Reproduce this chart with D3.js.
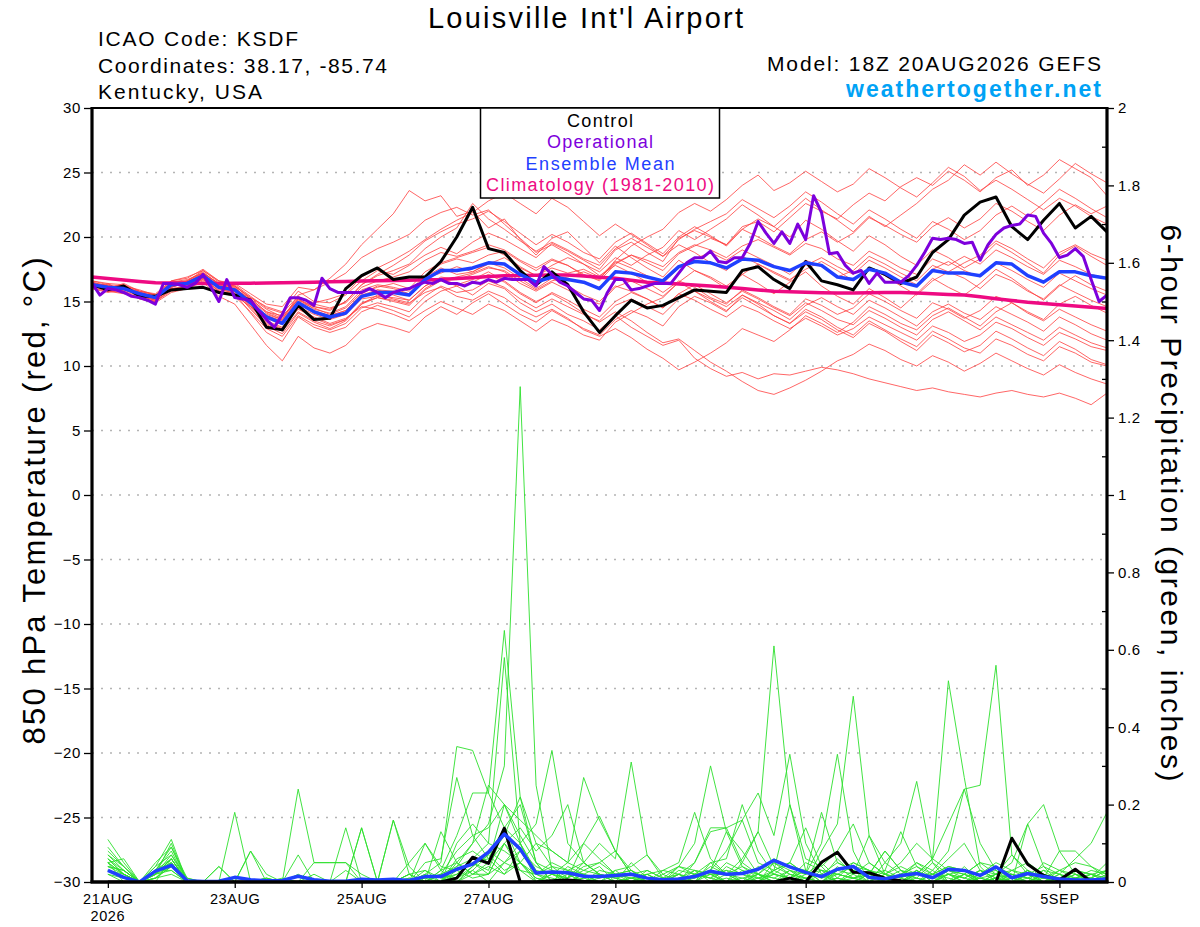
<!DOCTYPE html>
<html><head><meta charset="utf-8">
<script src="https://cdn.jsdelivr.net/npm/d3@7"></script>
<style>
body{margin:0;background:#fff}
svg{display:block}
text{font-family:"Liberation Sans",Arial,Helvetica,sans-serif}
</style>
</head><body>
<svg id="chart" width="1200" height="927"></svg>
<script>
// ---------------- DATA ----------------
const runStartUTC = [2026, 7, 20, 18];   // 18Z 20AUG2026
const stepsTemp = 65;                   // 6-hourly temperature points
const stepsOper = 129;                  // 3-hourly operational points

const xTickDates = [[2026,7,21],[2026,7,23],[2026,7,25],[2026,7,27],[2026,7,29],[2026,8,1],[2026,8,3],[2026,8,5]];
const xTickLabels = ["21AUG","23AUG","25AUG","27AUG","29AUG","1SEP","3SEP","5SEP"];
const leftTicks = [-30,-25,-20,-15,-10,-5,0,5,10,15,20,25,30];
const rightTicks = [0,0.2,0.4,0.6,0.8,1,1.2,1.4,1.6,1.8,2];
const rightMinorTicks = [0.1,0.3,0.5,0.7,0.9,1.1,1.3,1.5,1.7,1.9];
const gridLevels = [-25,-20,-15,-10,-5,0,5,10,15,20,25];

const controlTemp = [16.3,15.9,16.2,15.4,15.4,15.9,16.0,16.1,15.7,15.5,15.1,13.0,12.8,14.7,13.6,13.7,16.0,17.0,17.6,16.7,
 16.9,16.9,18.1,20.0,22.3,19.1,18.8,17.4,16.3,17.3,16.3,14.2,12.6,13.9,15.1,14.5,14.7,15.3,15.9,15.8,
 15.7,17.4,17.7,16.7,16.0,18.1,16.6,16.3,15.9,17.6,17.1,16.4,16.9,18.8,19.8,21.7,22.7,23.1,20.8,19.8,
 21.3,22.6,20.7,21.6,20.4];

const meanTemp = [16.3,16.1,16.0,15.6,15.3,16.3,16.4,17.0,16.1,15.9,14.9,13.8,13.3,14.9,14.2,13.8,14.1,15.4,15.7,15.7,
 15.5,16.7,17.4,17.4,17.6,18.0,17.9,17.1,16.5,16.9,16.7,16.5,16.0,17.3,17.2,16.9,16.6,17.7,18.1,18.0,
 17.6,18.3,18.2,17.7,17.4,18.0,17.8,16.9,16.7,17.5,17.2,16.5,16.2,17.4,17.2,17.2,17.0,18.0,17.9,17.0,
 16.5,17.3,17.3,17.0,16.8];

const climTemp = [16.90,16.78,16.66,16.55,16.45,16.43,16.41,16.40,16.40,16.41,16.42,16.44,16.45,16.48,16.50,16.53,16.55,16.58,16.60,16.63,
 16.65,16.68,16.70,16.78,16.85,16.93,17.00,17.02,17.04,17.05,17.05,16.97,16.88,16.80,16.65,16.50,16.43,16.35,16.28,16.20,
 16.10,16.00,15.90,15.80,15.76,15.72,15.68,15.65,15.66,15.68,15.69,15.70,15.65,15.60,15.55,15.50,15.36,15.22,15.08,14.95,
 14.85,14.75,14.65,14.55,14.45];

const operTemp = [16.4,15.5,16.0,15.9,15.7,15.4,15.3,15.1,14.8,16.4,
 16.4,16.3,16.1,16.4,17.1,16.1,15.0,16.7,15.3,15.2,
 15.1,14.3,13.6,13.0,14.0,15.3,15.3,15.1,14.7,16.8,
 16.0,15.7,15.7,15.7,15.7,16.0,15.7,15.3,15.7,15.9,
 16.0,16.3,16.5,16.4,16.7,16.4,16.4,16.2,16.5,16.4,
 16.7,16.5,16.8,16.7,16.7,16.7,16.2,17.7,17.1,16.5,
 16.2,15.7,15.2,15.1,14.3,15.7,16.7,16.7,15.9,16.0,
 16.2,16.4,16.4,16.4,17.2,18.0,18.4,18.4,18.9,18.1,
 18.0,18.4,18.4,19.5,21.2,20.3,19.5,20.4,19.5,21.0,
 19.8,23.2,21.9,18.7,18.8,17.8,17.2,17.4,16.4,17.2,
 16.5,16.5,16.5,17.0,17.8,18.8,19.9,19.8,19.9,19.8,
 19.5,19.6,18.2,19.4,20.2,20.7,20.9,21.0,21.7,21.6,
 20.3,19.5,18.4,18.6,19.1,18.5,16.7,15.0,15.5];

// precipitation: 64 six-hour totals ending 00Z 21AUG ... 18Z 5SEP
const controlPrecip = [0,0,0,0,0,0,0,0,0,0, 0,0,0,0,0,0,0,0,0,0,
 0,0,0.01,0.064,0.048,0.139,0,0,0.003,0.005, 0.002,0,0,0,0,0,0,0,0,0,
 0,0,0,0.01,0,0.051,0.077,0.025,0.024,0.01, 0.003,0,0,0,0,0,0,0.113,0.046,0.017,
 0.005,0.033,0,0];

const meanPrecip = [0.030,0.012,0,0.028,0.043,0.003,0.001,0.002,0.012,0.006,
 0.003,0.004,0.015,0.006,0.002,0.002,0.007,0.005,0.007,0.004,
 0.014,0.014,0.033,0.046,0.077,0.124,0.085,0.023,0.026,0.024,
 0.015,0.014,0.017,0.020,0.010,0.006,0.008,0.014,0.028,0.020,
 0.022,0.033,0.056,0.039,0.025,0.014,0.033,0.040,0.012,0.008,
 0.017,0.022,0.011,0.033,0.030,0.017,0.039,0.011,0.022,0.014,
 0.008,0.005,0.005,0.008];

const tempMembers = [
[16.5,16.0,16.4,15.8,15.6,16.6,16.9,17.4, 16.6,16.2,15.3,14.6,14.2,15.8,15.0,14.9, 15.5,16.6,17.4,17.1,17.8,18.6,19.2,18.7, 19.6,20.3,19.8,19.1,18.4,19.5,18.9,18.2, 17.5,19.0,19.6,18.8,18.1,19.9,20.5,20.0, 19.4,20.8,21.2,20.4,21.5,22.6,22.0,21.4, 22.5,23.4,22.8,23.9,24.6,24.0,25.1,24.4, 23.5,24.6,25.2,24.0,24.8,26.0,25.3,24.6, 23.2],
[16.1,16.4,15.7,15.2,15.0,16.0,16.2,16.8, 15.8,15.5,14.6,14.0,13.6,15.5,15.9,16.8, 17.9,19.4,20.6,21.8,23.6,22.8,23.2,21.6, 22.0,20.7,21.4,19.8,18.6,19.9,20.4,19.2, 18.0,19.3,18.4,17.6,16.9,18.2,17.4,16.8, 16.0,17.1,16.4,15.6,16.5,17.3,16.2,15.4, 14.8,16.0,15.3,14.5,15.6,16.8,16.1,15.5, 16.4,17.5,16.8,15.9,15.1,16.2,17.0,16.3, 15.8],
[16.4,15.8,16.1,15.4,15.1,16.1,16.5,17.1, 16.0,15.6,14.1,12.6,11.9,13.8,13.0,12.6, 13.0,14.2,14.7,14.3,13.8,15.0,15.8,16.2, 15.5,16.4,16.0,14.9,14.2,14.8,14.0,13.5, 12.8,13.9,13.0,12.3,11.6,12.0,10.6,9.8, 9.2,9.5,9.0,9.4,9.3,9.6,9.9,9.7, 9.4,9.0,8.7,8.4,8.1,8.3,8.0,7.8, 7.6,7.9,8.1,7.8,7.6,7.9,7.5,7.0, 7.9],
[16.2,15.9,15.8,15.2,14.9,15.7,16.0,16.5, 15.4,14.8,13.2,11.6,10.4,12.3,11.4,11.0, 11.6,12.8,13.3,13.0,12.6,13.8,14.6,14.0, 14.9,15.6,14.8,14.0,13.4,14.3,13.6,12.9, 12.4,13.6,14.3,13.8,13.1,14.6,15.4,14.9, 14.2,15.5,14.8,13.9,13.3,14.2,13.6,12.8, 12.2,13.3,12.7,11.9,11.2,12.4,11.8,11.1, 11.6,12.7,12.1,11.4,10.8,11.9,11.3,10.5, 10.1],
[16.6,16.3,16.2,15.9,15.5,16.4,16.6,17.3, 16.3,16.0,15.2,14.2,13.9,15.1,14.6,14.3, 15.0,16.3,17.1,17.8,18.6,19.7,20.4,21.0, 21.4,22.0,21.2,20.3,19.4,20.2,19.6,18.8, 18.3,19.6,20.3,19.5,18.7,20.0,20.8,20.1, 19.3,20.6,21.4,20.8,20.0,21.3,20.6,19.7, 18.9,20.1,19.4,18.5,17.8,19.0,18.4,17.6, 18.3,19.5,18.8,18.0,17.2,18.6,19.3,18.5, 17.8],
[16.0,15.7,15.9,15.5,15.2,16.2,16.3,16.7, 15.9,15.7,14.8,13.5,13.0,14.4,13.8,13.3, 13.7,14.6,14.4,14.0,13.5,14.3,15.0,14.5, 14.0,14.8,14.3,13.5,12.7,13.6,13.1,12.4, 12.0,13.4,14.1,14.8,15.3,16.5,17.4,16.9, 16.2,17.1,17.9,17.3,16.7,17.5,18.1,17.4, 16.6,17.6,17.0,16.2,15.5,16.6,17.3,16.8, 16.0,17.1,16.6,15.8,15.2,16.3,15.7,15.1, 14.6],
[16.3,16.2,16.1,15.7,15.4,16.5,16.7,17.2, 16.4,16.1,15.0,13.9,13.5,15.2,14.4,14.1, 14.6,15.9,16.3,16.1,15.8,17.0,17.9,18.3, 18.0,18.6,18.9,18.1,17.4,18.2,17.8,17.0, 16.7,18.2,19.3,20.0,20.6,21.9,22.6,22.0, 22.9,24.0,24.8,23.6,24.2,25.1,24.3,23.5, 24.1,25.3,24.6,23.8,23.1,24.2,25.4,24.7, 23.6,24.4,23.7,22.9,22.1,23.0,22.4,21.6, 21.0],
[16.2,16.0,16.2,15.6,15.3,16.0,16.1,16.9, 16.0,15.8,14.4,13.1,12.5,14.1,13.4,12.9, 13.5,14.8,15.5,15.2,14.9,15.7,16.1,15.4, 15.1,15.8,15.3,14.4,13.8,14.4,13.7,12.8, 12.3,12.9,12.2,11.3,10.6,9.7,10.3,11.0, 11.8,12.9,12.4,11.9,12.8,13.9,13.3,12.6, 13.4,14.6,14.0,13.3,12.8,13.9,14.5,13.8, 13.1,14.2,14.9,14.1,13.5,14.4,13.8,13.2, 12.7],
[16.4,16.1,16.0,15.5,15.2,16.3,16.2,16.8, 16.2,15.9,14.7,13.3,12.8,14.6,14.0,13.6, 14.0,15.3,15.9,15.5,15.1,16.2,16.8,16.3, 16.7,17.3,16.6,15.7,15.0,15.6,14.9,14.1, 13.4,14.2,13.5,12.6,11.8,12.1,11.2,10.3, 9.6,8.8,8.1,7.8,8.3,8.9,9.6,10.4, 10.9,11.7,11.2,10.5,10.0,10.8,10.3,9.6, 10.2,11.0,10.4,9.8,9.3,10.1,9.5,9.0, 8.6],
[16.3,16.0,16.1,15.6,15.3,16.4,16.5,17.1, 16.2,16.0,15.1,14.1,13.6,15.0,14.5,14.0, 14.5,15.7,16.1,16.4,16.0,17.3,18.0,18.4, 18.8,19.2,18.6,17.7,17.0,17.6,17.2,17.5, 16.9,18.1,17.6,17.0,16.4,17.6,18.3,18.8, 18.2,19.0,18.4,17.8,17.1,18.2,17.7,16.9, 17.4,18.5,17.9,17.2,16.6,17.8,17.3,18.0, 18.6,19.7,19.1,18.3,17.6,18.8,19.4,18.7, 18.2],
[16.5,16.2,16.0,15.7,15.4,16.2,16.4,16.9, 16.1,15.9,14.9,13.7,13.2,14.8,14.2,13.9, 14.3,15.6,16.2,16.0,15.6,16.9,17.6,17.1, 17.3,18.0,17.6,16.8,16.0,16.8,16.2,15.5, 15.0,16.2,15.8,15.2,14.5,15.6,15.1,14.4, 13.8,14.7,14.2,13.5,12.9,13.7,13.1,12.4, 12.9,13.8,13.2,12.6,12.0,13.1,12.6,11.9, 12.4,13.4,12.9,12.2,11.6,12.6,12.1,11.5, 11.2],
[16.2,16.3,15.8,15.4,15.1,16.1,16.6,17.4, 16.5,16.3,15.4,14.5,14.1,15.4,14.8,14.5, 14.9,16.1,16.6,16.9,17.3,18.2,18.8,18.5, 18.9,19.4,19.0,18.2,17.6,18.3,17.8,17.1, 16.6,17.9,18.6,18.0,17.4,18.7,19.3,19.9, 19.4,20.6,20.0,19.3,18.7,19.8,20.4,19.6, 20.3,21.5,20.9,20.2,19.6,20.8,21.5,20.7, 21.4,22.6,22.0,21.2,20.5,21.7,22.5,21.8, 22.4],
[16.4,15.9,16.3,15.6,15.3,16.3,16.4,17.0, 16.2,16.1,15.0,13.8,13.3,14.9,14.3,13.9, 14.3,15.5,15.9,15.8,15.6,16.8,17.2,17.7, 17.3,17.9,18.4,17.6,17.0,17.8,18.4,17.9, 17.3,18.4,17.8,18.6,19.2,20.5,19.8,20.6, 21.4,22.5,21.7,20.8,21.9,23.0,22.1,21.3, 20.4,21.6,20.8,21.7,22.6,23.7,24.4,25.6, 24.8,25.8,24.9,24.1,23.4,24.5,25.7,24.9, 24.2],
[16.1,15.8,15.6,15.3,15.0,15.8,16.0,16.6, 15.7,15.4,14.2,12.9,12.3,13.9,13.2,12.8, 13.3,14.5,14.9,14.6,14.2,15.4,16.2,15.7, 15.9,16.6,16.1,15.2,14.5,15.2,14.6,14.0, 13.5,14.7,15.2,14.6,14.0,15.2,15.8,15.2, 14.6,15.5,14.9,14.3,13.6,14.7,15.3,14.6, 14.0,15.1,14.5,13.8,13.1,14.2,14.8,14.1, 13.6,14.6,14.0,13.4,12.7,13.8,13.2,12.5, 12.0],
[16.6,16.4,16.3,15.8,15.5,16.6,16.8,17.5, 16.6,16.4,15.6,14.8,14.6,16.1,15.9,16.5, 17.2,18.4,19.1,19.6,20.2,21.3,21.9,22.3, 21.7,22.1,21.0,19.9,18.8,19.4,18.7,17.9, 17.0,17.8,17.2,16.5,15.7,16.6,16.1,15.3, 14.8,15.9,15.3,14.6,14.0,15.2,14.7,14.0, 14.5,15.6,15.0,14.3,13.7,14.9,14.4,13.7, 14.3,15.4,14.9,14.2,13.6,14.8,15.4,14.7, 14.1],
[16.3,16.0,15.9,15.5,15.2,16.2,16.3,16.9, 16.0,15.8,14.9,13.9,13.4,14.8,14.1,13.7, 14.0,15.2,15.4,15.3,15.1,16.2,16.9,16.7, 17.1,17.6,17.4,16.6,15.9,16.6,16.9,17.3, 16.8,18.0,18.6,18.2,17.7,18.8,19.4,19.0, 18.4,19.3,19.8,19.2,18.6,19.5,19.1,18.3, 17.8,18.9,18.3,17.6,17.1,18.3,17.8,18.5, 17.9,19.0,18.4,17.7,17.1,18.2,17.7,17.1, 16.8],
[16.2,15.9,16.0,15.5,15.1,16.1,16.5,17.2, 16.3,16.2,15.3,14.4,13.8,15.3,14.9,15.2, 15.6,16.9,17.6,18.2,18.9,19.8,20.6,21.3, 21.9,22.8,23.4,22.6,21.8,23.0,22.3,21.2, 20.1,21.0,20.2,19.4,18.5,19.4,18.8,18.0, 17.4,18.5,17.9,17.2,16.6,17.8,18.4,17.7, 17.1,18.2,17.6,16.9,16.3,17.5,18.1,17.4, 16.9,18.0,17.4,16.7,16.1,17.2,16.6,16.0, 15.5],
[16.4,16.1,16.2,15.7,15.4,16.3,16.2,16.9, 16.1,15.8,14.6,13.4,12.9,14.5,13.7,13.2, 13.6,14.9,15.3,15.0,14.7,15.9,16.6,16.9, 17.2,17.7,17.3,16.4,15.8,16.5,15.9,15.2, 14.8,16.1,16.6,16.0,15.4,16.5,15.8,15.0, 14.3,15.3,14.6,13.9,13.3,14.4,13.8,13.0, 12.4,13.5,12.8,12.1,11.5,12.7,12.1,11.4, 11.0,12.1,11.6,10.9,10.4,11.5,11.0,10.3, 10.0],
[16.5,16.2,16.1,15.8,15.5,16.5,16.6,17.2, 16.4,16.2,15.2,14.2,13.7,15.2,14.6,14.4, 15.0,16.3,17.0,17.4,17.9,19.1,20.0,20.7, 22.6,21.4,20.6,19.7,18.9,19.6,19.0,18.3, 17.8,19.1,19.9,19.2,18.5,19.8,20.6,21.2, 21.8,22.9,22.2,21.5,22.4,23.5,22.7,21.8, 21.0,22.1,21.4,20.6,19.9,21.2,20.6,19.8, 20.5,21.7,22.4,21.6,22.6,23.7,23.0,22.2, 21.5],
[16.0,15.8,15.7,15.3,15.0,15.9,16.1,16.7, 15.8,15.6,14.5,13.2,12.7,14.2,13.5,13.1, 13.6,14.8,15.3,15.1,14.8,16.0,16.7,16.2, 16.5,17.1,16.5,15.6,14.9,15.7,15.1,14.4, 13.8,15.0,15.7,15.2,14.5,15.6,16.3,15.6, 14.9,15.8,15.2,14.5,13.9,14.9,14.3,13.6, 13.2,14.3,13.7,13.0,12.4,13.6,14.2,13.5, 12.8,13.8,13.2,12.6,12.0,13.0,12.4,11.8, 11.4]
];

const precipMembers = [
[0.11,0.05,0,0.03,0.08,0,0,0, 0.18,0,0,0,0,0,0,0, 0,0,0,0,0.02,0.05,0.35,0.34, 0.23,0.65,0.22,0.05,0,0.02,0,0, 0,0.01,0,0,0,0.03,0.02,0, 0.03,0,0.05,0.02,0,0,0.04,0.01, 0,0,0.02,0,0,0.03,0.01,0, 0,0.01,0,0.02,0,0,0,0],
[0.07,0.03,0,0.02,0.06,0,0,0, 0,0,0,0,0.24,0.05,0.05,0.05, 0,0,0,0,0,0.03,0.05,0.1, 0.15,0.3,1.28,0.25,0.03,0,0.01,0, 0,0,0.02,0,0,0,0.05,0.02, 0,0.02,0,0.01,0,0.03,0,0, 0.02,0,0,0.01,0,0,0.04,0, 0.02,0,0.03,0,0,0.01,0,0],
[0.06,0.02,0,0.05,0.09,0.01,0,0, 0,0,0,0.01,0,0,0,0.14, 0,0,0,0.01,0,0,0.1,0.15, 0.1,0.58,0.1,0,0.02,0,0.02,0.04, 0,0,0,0.02,0.04,0.02,0.01,0, 0.05,0.13,0.61,0.2,0.03,0,0.01,0, 0.02,0.01,0,0.03,0,0.02,0,0.03, 0.01,0,0.02,0.04,0,0.03,0,0],
[0.05,0.06,0,0.01,0.05,0,0,0, 0,0,0.01,0,0,0,0,0, 0,0,0.16,0.02,0,0.02,0,0.04, 0.07,0.14,0.1,0.15,0.34,0.1,0.05,0.02, 0,0.05,0.01,0,0.01,0,0,0.02, 0,0,0.03,0.05,0.02,0.1,0.33,0.08, 0,0.03,0.01,0,0.02,0,0,0.01, 0,0.02,0.01,0,0.03,0.01,0,0.02],
[0.04,0.02,0,0.04,0.07,0,0,0, 0,0.08,0,0,0,0,0,0.03, 0,0,0,0.05,0.1,0.03,0,0.02, 0.05,0.2,0.16,0.12,0.08,0.05,0.27,0.16, 0.08,0.02,0,0,0,0.01,0.02,0, 0,0.01,0.03,0.01,0,0.08,0.15,0.48, 0.12,0.02,0,0.03,0.01,0,0.02,0, 0,0,0.01,0.03,0,0,0.02,0.01],
[0.08,0.04,0,0.02,0.1,0,0,0, 0,0,0,0,0,0.02,0,0, 0,0,0,0.02,0,0,0.03,0.01, 0.02,0.05,0.03,0,0.02,0.01,0.05,0.1, 0.06,0.31,0.07,0.01,0,0,0.02,0.03, 0,0.02,0.01,0.03,0,0.02,0,0.01, 0,0.02,0.05,0.1,0.06,0.52,0.27,0.04, 0,0.01,0.03,0,0.02,0,0.01,0],
[0.03,0.01,0,0.01,0.04,0,0,0.04, 0,0,0,0,0,0,0,0, 0,0,0,0,0.01,0,0.05,0.02, 0.02,0.1,0.05,0.01,0,0.03,0.05,0.02, 0,0.01,0.02,0,0.04,0.1,0.3,0.13, 0.04,0.02,0,0,0.01,0,0.02,0.01, 0.03,0,0,0.02,0.06,0.15,0.24,0.25, 0.56,0.07,0.02,0,0.01,0,0,0],
[0.06,0.03,0,0,0.06,0,0,0, 0,0,0.01,0,0.07,0,0,0, 0,0,0,0.01,0,0,0.04,0.1, 0.25,0.2,0.12,0.05,0,0.04,0.02,0, 0.03,0,0.01,0,0.02,0.05,0.13,0.14, 0.16,0.23,0.12,0.33,0.1,0.02,0,0.03, 0.01,0,0.02,0.04,0.02,0.06,0.1,0.03, 0,0.02,0,0.01,0,0.02,0,0.01],
[0.02,0,0,0.02,0.05,0,0,0, 0,0,0,0,0,0,0,0, 0.14,0,0,0,0,0,0.02,0.05, 0.03,0.14,0.2,0.05,0.03,0,0.01,0.02, 0,0,0,0.01,0,0.02,0.05,0.06, 0.2,0.08,0.02,0.05,0.02,0.18,0.05,0.03, 0,0.05,0.1,0.26,0.05,0,0.02,0.01, 0,0.03,0.05,0.02,0,0.01,0.02,0.03],
[0.04,0.03,0,0.03,0.03,0,0,0, 0,0,0,0,0,0,0,0, 0,0,0.16,0.04,0,0,0,0.03, 0,0.05,0.08,0.02,0.04,0.03,0,0.02, 0.01,0,0.02,0.03,0.05,0.18,0.06,0.02, 0.01,0,0.02,0.01,0.03,0,0.01,0.05, 0.03,0.01,0,0.02,0.02,0.04,0.03,0, 0.02,0.05,0.15,0.2,0.08,0.02,0,0.01],
[0.05,0,0,0.01,0.04,0,0,0, 0,0,0,0,0,0,0,0, 0,0,0,0,0.05,0.06,0.27,0.12, 0.06,0.02,0.05,0.01,0,0,0.02,0.01, 0.02,0,0,0,0,0.02,0.01,0.03, 0.02,0,0.03,0.05,0.14,0.04,0,0.02, 0.05,0.02,0,0,0.03,0,0.02,0, 0.01,0,0.15,0.04,0.02,0.06,0.1,0.18],
[0.03,0.02,0,0.02,0.06,0,0,0, 0,0,0,0,0,0,0,0, 0.14,0,0,0,0,0.03,0.12,0.23, 0.23,0.14,0.05,0.02,0.01,0,0,0.03, 0.02,0.01,0.02,0,0.01,0.03,0,0.01, 0,0.04,0.02,0.01,0.03,0.01,0.06,0.02, 0.12,0.05,0.02,0.01,0,0.02,0.03,0, 0.01,0,0.02,0,0.01,0.03,0.02,0],
[0.09,0.04,0,0.04,0.11,0,0,0, 0,0,0,0,0,0,0,0, 0,0,0,0,0,0.13,0.05,0.02, 0.04,0.02,0.08,0.04,0.02,0.05,0.1,0.17, 0.08,0.03,0,0,0.02,0,0,0.04, 0.02,0.01,0,0.03,0.02,0.05,0.01,0, 0.02,0.03,0.13,0.04,0.01,0.03,0.02,0.05, 0.02,0.01,0.03,0.01,0.08,0.08,0.04,0.02],
[0.02,0.01,0,0.02,0.03,0,0,0, 0,0,0,0,0,0,0,0, 0,0,0,0,0.1,0.04,0.03,0.05, 0.02,0.1,0.03,0.02,0,0.01,0.04,0.05, 0.08,0.02,0,0.01,0.02,0,0.03,0, 0.01,0.02,0,0.02,0.01,0,0.03,0.05, 0.03,0.01,0.02,0.05,0.03,0.08,0.24,0.1, 0.03,0,0,0.02,0.01,0.03,0.02,0],
[0.05,0.02,0,0.03,0.05,0,0,0, 0,0.08,0.02,0,0,0,0,0, 0,0,0,0.02,0,0.02,0.04,0.06, 0.1,0.08,0.05,0,0.03,0.02,0,0.01, 0.03,0.04,0.07,0.02,0,0.05,0.14,0.14, 0.05,0.02,0.01,0,0.02,0.03,0.02,0.01, 0.02,0.08,0.03,0,0.02,0.01,0,0.02, 0.03,0.01,0,0.02,0,0.01,0.03,0.02],
[0.04,0.03,0,0.02,0.07,0.01,0,0.04, 0,0,0,0,0,0.05,0.05,0.05, 0.02,0,0,0,0,0.02,0.08,0.12, 0.14,0.2,0.1,0.02,0.05,0.03,0.02,0, 0.02,0.01,0,0.03,0.02,0.01,0.04,0.02, 0.06,0.13,0.04,0.02,0.01,0,0.03,0.02, 0,0.02,0.01,0.03,0,0.02,0.01,0.03, 0.02,0.03,0.01,0,0.02,0,0.01,0.03],
[0.06,0.02,0,0.03,0.06,0,0,0, 0,0,0,0,0.02,0,0,0, 0,0,0,0.02,0.03,0,0.06,0.08, 0.05,0.1,0.14,0.08,0.12,0.2,0.05,0.02, 0.01,0,0.03,0.01,0,0.02,0.03,0.08, 0.16,0.05,0.03,0.2,0.06,0.04,0.08,0.15, 0.05,0.02,0.04,0.02,0.06,0.03,0.02,0.05, 0.04,0.02,0,0.05,0.03,0.02,0.01,0.05],
[0.03,0.01,0,0.01,0.02,0,0,0, 0,0,0,0,0,0,0,0, 0,0,0,0,0.02,0,0.01,0.03, 0.07,0.03,0.05,0.1,0.04,0.01,0.1,0.06, 0.02,0.03,0,0,0.02,0,0.03,0.13, 0.08,0.02,0.05,0.03,0.01,0.02,0.05,0.03, 0.02,0.08,0.03,0.01,0.05,0.02,0,0.01, 0.02,0.07,0.03,0.01,0,0.02,0.01,0.03],
[0.07,0.04,0,0.03,0.09,0,0,0, 0,0,0,0,0,0,0,0, 0,0,0,0,0.03,0.01,0.02,0.05, 0.06,0.12,0.22,0.1,0.08,0.05,0.03,0.05, 0.02,0.03,0.01,0,0.03,0.02,0.01,0.05, 0.03,0.02,0.06,0.04,0.03,0.01,0.02,0.04, 0.03,0.02,0.01,0.05,0.02,0.04,0.03,0.02, 0.05,0.03,0.02,0.01,0.03,0.05,0.04,0.01],
[0.05,0.02,0,0.02,0.04,0,0,0, 0,0,0.01,0,0,0,0,0, 0,0,0,0,0.01,0.02,0.01,0.04, 0.08,0.05,0.1,0.03,0.02,0.01,0.03,0.02, 0.01,0.02,0.03,0.01,0.04,0.03,0.02,0.02, 0.04,0.01,0.02,0.01,0.05,0.03,0.02,0.01, 0.02,0.01,0.03,0.02,0.01,0.02,0.01,0.03, 0.01,0.02,0.01,0.03,0.02,0.01,0.02,0.01]
];

// ---------------- CHART ----------------
const svg = d3.select("#chart");
svg.append("rect").attr("width",1200).attr("height",927).attr("fill","#fff");

const start = new Date(Date.UTC(...runStartUTC));
const t6 = d3.range(stepsTemp).map(i => d3.utcHour.offset(start, 6*i));
const t3 = d3.range(stepsOper).map(i => d3.utcHour.offset(start, 3*i));
const tP = t6.slice(1);

const L = 92, R = 1107, T = 108, B = 882;
const x = d3.scaleUtc().domain([t6[0], t6[t6.length-1]]).range([L, R]);
const yT = d3.scaleLinear().domain([-30, 30]).range([B, T]);
const yP = d3.scaleLinear().domain([0, 2]).range([B, T]);

svg.append("clipPath").attr("id","plot").append("rect")
  .attr("x",L).attr("y",T-2).attr("width",R-L).attr("height",B-T+2);

// grid
svg.append("g").selectAll("line").data(gridLevels).join("line")
  .attr("x1",L).attr("x2",R).attr("y1",d=>yT(d)).attr("y2",d=>yT(d))
  .attr("stroke","#b4b4b4").attr("stroke-width",1.6).attr("stroke-dasharray","2,7");

const plot = svg.append("g").attr("clip-path","url(#plot)");
const lineT = times => d3.line().x((d,i)=>x(times[i])).y(d=>yT(d));
const lineP = d3.line().x((d,i)=>x(tP[i])).y(d=>yP(d));

plot.append("g").selectAll("path").data(precipMembers).join("path")
  .attr("d", d=>lineP(d)).attr("fill","none").attr("stroke","#2ee02e").attr("stroke-width",1).attr("stroke-opacity",0.9);
plot.append("g").selectAll("path").data(tempMembers).join("path")
  .attr("d", d=>lineT(t6)(d)).attr("fill","none").attr("stroke","#ff4040").attr("stroke-width",1).attr("stroke-opacity",0.8);

plot.append("path").attr("d", lineT(t6)(climTemp)).attr("fill","none").attr("stroke","#ee0a82").attr("stroke-width",3.5);
plot.append("path").attr("d", lineT(t6)(controlTemp)).attr("fill","none").attr("stroke","#000").attr("stroke-width",3).attr("stroke-linejoin","round");
plot.append("path").attr("d", lineP(controlPrecip)).attr("fill","none").attr("stroke","#000").attr("stroke-width",3).attr("stroke-linejoin","round");
plot.append("path").attr("d", lineT(t6)(meanTemp)).attr("fill","none").attr("stroke","#1f40ff").attr("stroke-width",3.5).attr("stroke-linejoin","round");
plot.append("path").attr("d", lineP(meanPrecip)).attr("fill","none").attr("stroke","#1f40ff").attr("stroke-width",3.5).attr("stroke-linejoin","round");
plot.append("path").attr("d", lineT(t3)(operTemp)).attr("fill","none").attr("stroke","#7d00dc").attr("stroke-width",3).attr("stroke-linejoin","round");

// axes
const fnt = "'Liberation Sans', Arial, sans-serif";
const gl = svg.append("g").attr("transform",`translate(${L},0)`)
  .call(d3.axisLeft(yT).tickValues(leftTicks).tickSize(8).tickPadding(3).tickFormat(d3.format("d")));
const gr = svg.append("g").attr("transform",`translate(${R},0)`)
  .call(d3.axisRight(yP).tickValues(rightTicks).tickSize(7).tickPadding(4).tickFormat(d => String(+d.toFixed(1))));
const grm = svg.append("g").attr("transform",`translate(${R},0)`)
  .call(d3.axisLeft(yP).tickValues(rightMinorTicks).tickSize(5).tickFormat(""));
const tickDates = xTickDates.map(a => new Date(Date.UTC(a[0],a[1],a[2])));
const gb = svg.append("g").attr("transform",`translate(0,${B})`)
  .call(d3.axisBottom(x).tickValues(tickDates).tickSize(6).tickSizeOuter(0).tickPadding(6).tickFormat((d,i)=>xTickLabels[i]));
[gl,gr,grm,gb].forEach(g => {
  g.select(".domain").remove();
  g.selectAll(".tick line").attr("stroke","#000").attr("stroke-width",1.3);
  g.selectAll("text").attr("font-family",fnt).attr("font-size",15).attr("fill","#000").attr("letter-spacing","0.6px");
});
gb.selectAll("text").attr("font-size",14.5);
svg.append("text").attr("x",x(tickDates[0])).attr("y",921).attr("text-anchor","middle")
  .attr("font-size",14.5).attr("letter-spacing","0.6px").text("2026");

// frame
svg.append("line").attr("x1",L).attr("x2",R).attr("y1",T).attr("y2",T).attr("stroke","#000").attr("stroke-width",2.2);
svg.append("line").attr("x1",L-1.5).attr("x2",R+1.5).attr("y1",B).attr("y2",B).attr("stroke","#000").attr("stroke-width",3.5);
svg.append("line").attr("x1",L).attr("x2",L).attr("y1",T-1).attr("y2",B).attr("stroke","#000").attr("stroke-width",3.2);
svg.append("line").attr("x1",R).attr("x2",R).attr("y1",T-1).attr("y2",B).attr("stroke","#000").attr("stroke-width",3.2);

// legend
const lg = svg.append("g");
lg.append("rect").attr("x",480.5).attr("y",T).attr("width",239).attr("height",90)
  .attr("fill","#fff").attr("stroke","#000").attr("stroke-width",1.5);
const legendItems = [
  {t:"Control", c:"#000", w:66, y:127},
  {t:"Operational", c:"#7d00dc", w:106, y:148},
  {t:"Ensemble Mean", c:"#1f40ff", w:149, y:170},
  {t:"Climatology (1981-2010)", c:"#ee0a82", w:228, y:191}
];
lg.selectAll("text").data(legendItems).join("text")
  .attr("x",600).attr("y",d=>d.y).attr("text-anchor","middle").attr("font-size",18)
  .attr("fill",d=>d.c).attr("textLength",d=>d.w).attr("lengthAdjust","spacing").text(d=>d.t);

// header texts
function label(txt, x0, y0, size, len, opts={}) {
  const t = svg.append("text").attr("x",x0).attr("y",y0).attr("font-size",size)
    .attr("fill",opts.fill||"#000").attr("textLength",len).attr("lengthAdjust","spacing").text(txt);
  if (opts.bold) t.attr("font-weight","bold");
  if (opts.anchor) t.attr("text-anchor",opts.anchor);
  if (opts.transform) t.attr("transform",opts.transform);
  return t;
}
label("Louisville Int'l Airport", 428, 28, 29, 315);
label("ICAO Code: KSDF", 98, 46, 21, 200);
label("Coordinates: 38.17, -85.74", 98, 72.5, 21, 289);
label("Kentucky, USA", 98, 99, 21, 164);
label("Model: 18Z 20AUG2026 GEFS", 767, 70.5, 21, 334);
label("weathertogether.net", 846, 97, 23, 255, {bold:true, fill:"#00a2f5"});

// axis titles
svg.append("text").attr("transform","translate(45,501) rotate(-90)").attr("text-anchor","middle")
  .attr("font-size",31).attr("textLength",487).attr("lengthAdjust","spacing")
  .text("850 hPa Temperature (red, °C)");
svg.append("text").attr("transform","translate(1161,503) rotate(90)").attr("text-anchor","middle")
  .attr("font-size",30).attr("textLength",557).attr("lengthAdjust","spacing")
  .text("6-hour Precipitation (green, inches)");
</script>
</body></html>
